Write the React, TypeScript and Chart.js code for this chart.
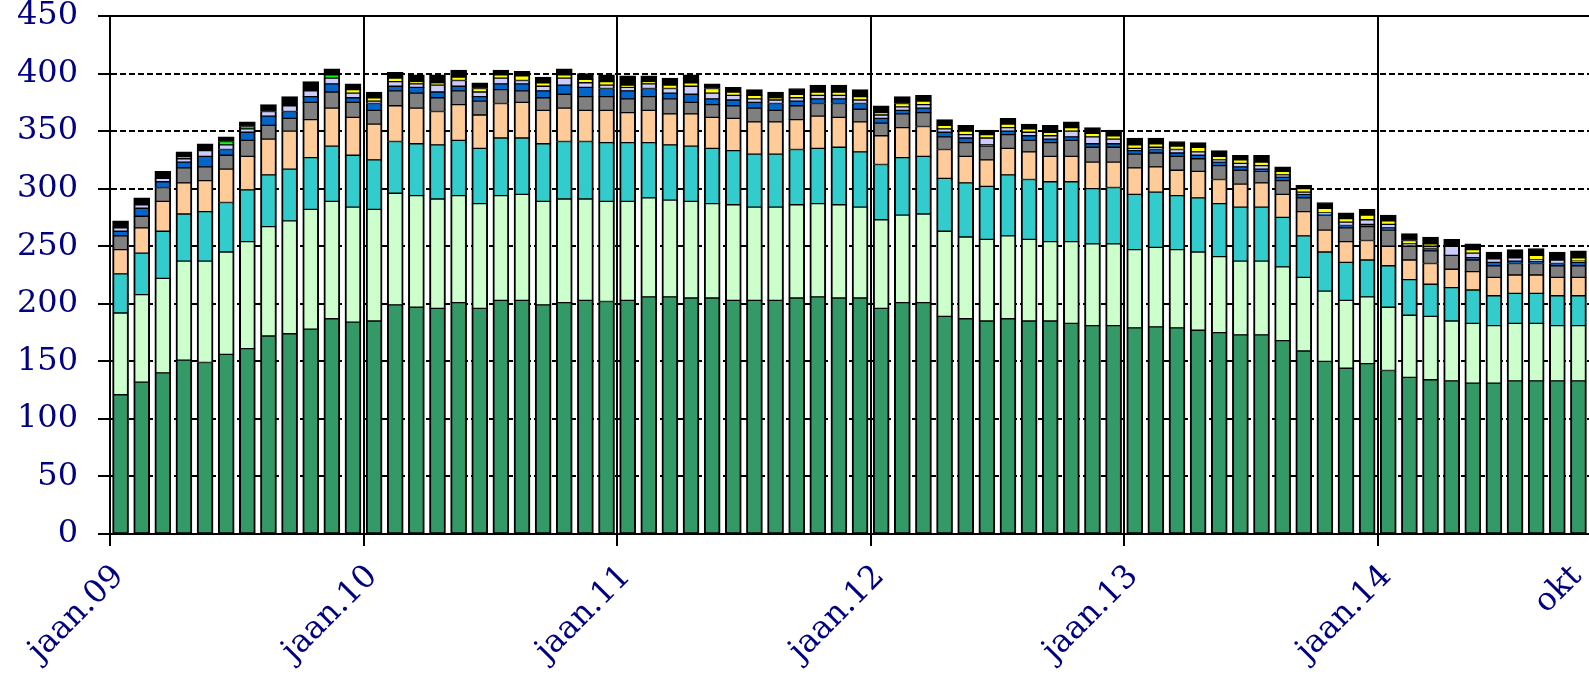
import { useEffect, useRef } from "react";
import { Chart, registerables, type ChartConfiguration } from "chart.js";

Chart.register(...registerables);

// month index 0 = jaan.09 … 69 = okt.14
const xTickPositions = [0, 12, 24, 36, 48, 60, 69];
const xTickLabels = ["jaan.09", "jaan.10", "jaan.11", "jaan.12", "jaan.13", "jaan.14", "okt"];

const darkGreen = [
  121, 132, 140, 151, 149, 156, 161, 172, 174, 178, 187, 184,
  185, 199, 197, 196, 201, 196, 203, 203, 199, 201, 203, 202,
  203, 206, 206, 205, 205, 203, 203, 203, 205, 206, 205, 205,
  196, 201, 201, 189, 187, 185, 187, 185, 185, 183, 181, 181,
  179, 180, 179, 177, 175, 173, 173, 168, 159, 150, 144, 148,
  142, 136, 134, 133, 131, 131, 133, 133, 133, 133,
];
const lightGreen = [
  71, 76, 82, 86, 88, 89, 93, 95, 98, 104, 102, 100,
  97, 97, 97, 95, 93, 91, 91, 92, 90, 90, 88, 87,
  86, 86, 84, 84, 82, 83, 81, 81, 81, 81, 81, 79,
  77, 76, 77, 74, 71, 71, 72, 71, 69, 71, 71, 71,
  68, 69, 68, 68, 66, 64, 64, 64, 64, 61, 59, 58,
  55, 54, 55, 52, 52, 50, 50, 50, 48, 48,
];
const teal = [
  34, 36, 41, 41, 43, 43, 45, 45, 45, 45, 48, 45,
  43, 45, 45, 47, 48, 48, 50, 49, 50, 50, 50, 51,
  51, 48, 48, 48, 48, 47, 46, 46, 48, 48, 50, 48,
  48, 50, 50, 46, 47, 46, 53, 52, 52, 52, 48, 49,
  48, 48, 47, 47, 46, 47, 47, 43, 36, 34, 33, 32,
  36, 31, 28, 29, 29, 26, 26, 26, 26, 26,
];
const peach = [
  21, 22, 26, 27, 27, 29, 29, 31, 33, 33, 33, 33,
  31, 31, 31, 29, 31, 29, 30, 31, 29, 29, 27, 28,
  26, 28, 27, 28, 27, 28, 28, 28, 26, 28, 26, 26,
  25, 26, 26, 25, 23, 23, 23, 24, 22, 22, 23, 22,
  23, 22, 22, 23, 21, 20, 21, 20, 21, 19, 18, 17,
  17, 17, 18, 16, 16, 16, 16, 16, 16, 16,
];
const gray = [
  12, 10, 12, 13, 12, 12, 14, 12, 11, 15, 14, 13,
  12, 13, 13, 12, 12, 12, 12, 10, 11, 12, 12, 12,
  12, 12, 13, 10, 11, 11, 12, 10, 12, 11, 12, 11,
  11, 12, 12, 11, 12, 12, 12, 10, 12, 14, 13, 13,
  12, 12, 12, 11, 12, 12, 10, 12, 12, 13, 12, 12,
  14, 12, 11, 12, 10, 10, 10, 10, 10, 10,
];
const blue = [
  4, 7, 5, 5, 9, 5, 7, 8, 6, 5, 7, 4,
  6, 4, 5, 5, 4, 4, 5, 6, 6, 8, 8, 7,
  7, 7, 5, 7, 5, 5, 5, 6, 4, 4, 4, 5,
  4, 3, 4, 4, 4, 1, 3, 4, 3, 3, 3, 3,
  3, 3, 3, 3, 3, 3, 2, 3, 3, 1, 2, 2,
  2, 1, 2, 0, 2, 3, 2, 2, 2, 3,
];
const lavender = [
  3, 3, 3, 3, 5, 4, 3, 4, 5, 5, 5, 4,
  2, 4, 3, 6, 5, 4, 5, 3, 4, 6, 4, 3,
  3, 4, 4, 7, 5, 4, 3, 3, 3, 3, 3, 3,
  3, 3, 3, 3, 3, 6, 3, 3, 3, 5, 6, 4,
  2, 2, 3, 3, 2, 3, 3, 2, 2, 1, 3, 4,
  3, 1, 2, 8, 4, 3, 3, 1, 3, 1,
];
const lime = [
  0, 0, 0, 2, 0, 3, 2, 0, 0, 0, 3, 0,
  0, 0, 0, 0, 0, 0, 0, 0, 0, 0, 0, 0,
  0, 0, 0, 0, 0, 0, 0, 0, 0, 0, 0, 0,
  0, 0, 0, 0, 0, 0, 0, 0, 0, 0, 0, 0,
  0, 0, 0, 0, 0, 0, 0, 0, 0, 0, 0, 0,
  0, 0, 0, 0, 0, 0, 0, 0, 0, 0,
];
const yellow = [
  0, 0, 0, 0, 0, 0, 0, 0, 0, 0, 0, 3,
  3, 3, 2, 2, 3, 3, 3, 4, 3, 3, 3, 3,
  2, 2, 3, 3, 4, 3, 3, 2, 3, 3, 3, 3,
  2, 3, 3, 3, 3, 3, 3, 3, 3, 3, 3, 3,
  3, 3, 3, 4, 3, 3, 3, 3, 3, 4, 3, 4,
  3, 3, 2, 0, 3, 0, 0, 4, 0, 3,
];
const black = [
  6, 6, 6, 4, 6, 4, 4, 6, 8, 8, 5, 5,
  5, 5, 6, 7, 6, 5, 4, 4, 5, 5, 5, 6,
  8, 5, 6, 7, 4, 4, 5, 5, 5, 6, 6, 6,
  6, 6, 5, 5, 5, 4, 5, 4, 6, 5, 5, 5,
  6, 5, 4, 4, 5, 4, 6, 4, 3, 5, 5, 5,
  5, 6, 6, 6, 5, 6, 7, 6, 7, 6,
];

const series = [
  { label: "1", values: darkGreen, color: "#339966" },
  { label: "2", values: lightGreen, color: "#CCFFCC" },
  { label: "3", values: teal, color: "#33CCCC" },
  { label: "4", values: peach, color: "#FFCC99" },
  { label: "5", values: gray, color: "#808080" },
  { label: "6", values: blue, color: "#0066CC" },
  { label: "7", values: lavender, color: "#CCCCFF" },
  { label: "8", values: lime, color: "#00FF00" },
  { label: "9", values: yellow, color: "#FFFF00" },
  { label: "10", values: black, color: "#000000" },
];

const NAVY = "#000080";
const FONT = { family: "'DejaVu Serif', serif", size: 32 };

export default function App() {
  const canvasRef = useRef<HTMLCanvasElement>(null);
  const chartRef = useRef<Chart | null>(null);

  useEffect(() => {
    if (!canvasRef.current) return;
    chartRef.current?.destroy();

    const cfg: ChartConfiguration<"bar"> = {
      type: "bar",
      data: {
        datasets: series.map((s) => ({
          label: s.label,
          data: s.values.map((v, i) => ({ x: i + 0.5, y: v })) as any,
          backgroundColor: s.color,
          borderColor: "#000",
          borderWidth: { top: 1, bottom: 1, left: 2, right: 2 },
          borderSkipped: false,
          barThickness: 16,
        })),
      },
      options: {
        animation: false,
        responsive: true,
        maintainAspectRatio: false,
        layout: { padding: { top: 16, right: 0, bottom: 0, left: 0 } },
        plugins: { legend: { display: false } },
        scales: {
          x: {
            type: "linear",
            stacked: true,
            offset: false,
            min: 0,
            max: 70,
            afterBuildTicks: (s: any) => {
              s.ticks = xTickPositions.map((v) => ({ value: v }));
            },
            afterFit: (s: any) => {
              s.height = 141;
              s.paddingLeft = 0;
              s.paddingRight = 0;
            },
            grid: {
              offset: false,
              color: (c: any) => (c.tick && c.tick.value === 69 ? "rgba(0,0,0,0)" : "#000"),
              lineWidth: 2,
              tickLength: 12,
            },
            border: { color: "#000", width: 2 },
            ticks: {
              autoSkip: false,
              minRotation: 45,
              maxRotation: 45,
              color: NAVY,
              font: FONT,
              padding: 12,
              labelOffset: 9,
              callback: (v: any) => xTickLabels[xTickPositions.indexOf(Number(v))] ?? "",
            },
          },
          y: {
            stacked: true,
            min: 0,
            max: 450,
            afterFit: (s: any) => {
              s.width = 110;
              s.paddingTop = 0;
              s.paddingBottom = 0;
            },
            grid: { color: "#000", lineWidth: 2, tickLength: 12 },
            border: {
              color: "#000",
              width: 2,
              dash: (c: any) => (c.tick && c.tick.value === 450 ? [] : [6, 3]),
            },
            ticks: { stepSize: 50, color: NAVY, font: FONT, padding: 20 },
          },
        },
      },
    };

    chartRef.current = new Chart(canvasRef.current, cfg);
    return () => {
      chartRef.current?.destroy();
    };
  }, []);

  return (
    <div style={{ position: "fixed", left: 0, top: 0, width: 1589, height: 675, background: "#fff" }}>
      <canvas ref={canvasRef} />
    </div>
  );
}
